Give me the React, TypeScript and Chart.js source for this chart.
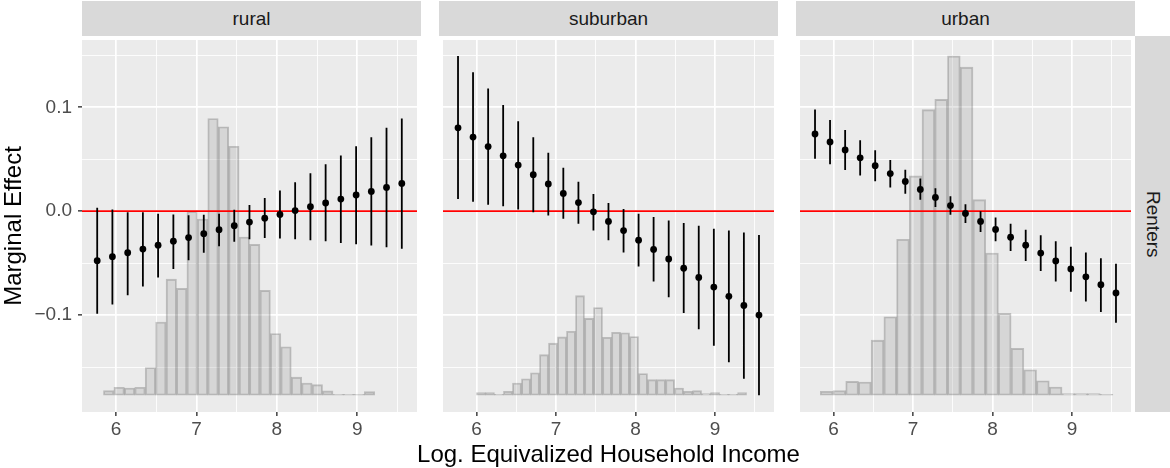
import React, { useEffect, useRef } from "react";
import { Chart, registerables } from "chart.js";

Chart.register(...registerables);

const FONT = '"Liberation Sans", Arial, Helvetica, sans-serif';

// ---- data ----
const facetNames = ["rural", "suburban", "urban"];
const rowName = "Renters";
const xTitle = "Log. Equivalized Household Income";
const yTitle = "Marginal Effect";

// evaluation grid of log income (shared by all panels)
const incomeGrid = [
  5.766, 5.955, 6.145, 6.334, 6.523, 6.713, 6.902, 7.091, 7.281, 7.47, 7.659,
  7.849, 8.038, 8.227, 8.417, 8.606, 8.795, 8.985, 9.174, 9.363, 9.553,
];

const ruralEst = [
  -0.0476, -0.0438, -0.04, -0.0365, -0.0327, -0.0289, -0.0254, -0.0216, -0.0178, -0.014, -0.0105,
  -0.0067, -0.0032, 0.0006, 0.0044, 0.0079, 0.0117, 0.0156, 0.019, 0.0229, 0.0267,
];
const ruralLow = [
  -0.0987, -0.0898, -0.081, -0.0724, -0.0638, -0.0556, -0.0473, -0.04, -0.0337, -0.0295, -0.027,
  -0.0257, -0.0263, -0.027, -0.0279, -0.0289, -0.0305, -0.0317, -0.033, -0.0346, -0.0362,
];
const ruralHigh = [
  0.0032, 0.0016, -0.001, -0.001, -0.0025, -0.0032, -0.0038, -0.0035, -0.0025, 0.0013, 0.006,
  0.0127, 0.02, 0.0279, 0.0365, 0.0451, 0.0537, 0.0625, 0.0711, 0.0803, 0.0892,
];

const suburbanEst = [
  0.0803, 0.0714, 0.0622, 0.0533, 0.0444, 0.0352, 0.0263, 0.0171, 0.0083, -0.0006, -0.0098,
  -0.0187, -0.0279, -0.0368, -0.046, -0.0549, -0.0638, -0.073, -0.0819, -0.0908, -0.1,
];
const suburbanLow = [
  0.0117, 0.0092, 0.0063, 0.0048, 0.0016, -0.001, -0.0041, -0.0073, -0.0121, -0.0187, -0.0279,
  -0.0397, -0.0533, -0.0676, -0.0829, -0.0981, -0.1137, -0.1295, -0.1454, -0.1613, -0.1771,
];
const suburbanHigh = [
  0.1495, 0.1337, 0.1181, 0.1022, 0.0867, 0.0711, 0.0562, 0.0419, 0.0283, 0.0165, 0.0079,
  0.0022, -0.0025, -0.0057, -0.0089, -0.0114, -0.014, -0.0168, -0.0187, -0.0206, -0.0229,
];

const urbanEst = [
  0.0743, 0.0667, 0.059, 0.0514, 0.0438, 0.0362, 0.0286, 0.021, 0.0133, 0.0054, -0.0022,
  -0.0098, -0.0175, -0.0251, -0.0327, -0.0403, -0.0479, -0.0556, -0.0632, -0.0708, -0.0787,
];
const urbanLow = [
  0.0505, 0.0451, 0.0397, 0.0343, 0.0289, 0.0229, 0.0168, 0.0111, 0.0041, -0.0035, -0.0114,
  -0.02, -0.0289, -0.0384, -0.0479, -0.0575, -0.0676, -0.0775, -0.087, -0.0971, -0.1073,
];
const urbanHigh = [
  0.0978, 0.0879, 0.0781, 0.0683, 0.0587, 0.0492, 0.04, 0.0314, 0.0222, 0.0143, 0.0067,
  0.0, -0.006, -0.0121, -0.0178, -0.0232, -0.029, -0.0343, -0.0397, -0.0454, -0.0505,
];

// income distribution (histogram bar tops, drawn in the plot's y units)
const histBase = -0.1772;
const ruralBinStart = 5.844;
const ruralBinWidth = 0.1297;
const ruralHist = [
  -0.1727, -0.1695, -0.1702, -0.1695, -0.1505, -0.1067, -0.0654, -0.0743, -0.0003, -0.0076, 0.0892,
  0.0813, 0.0625, -0.0248, -0.032, -0.0762, -0.1178, -0.1305, -0.1597, -0.1654, -0.167, -0.173,
  -0.1762, -0.1762, -0.1762, -0.1737,
];
const suburbanBinStart = 5.998;
const suburbanBinWidth = 0.1133;
const suburbanHist = [
  -0.1746, -0.1746, -0.1762, -0.1733, -0.1654, -0.1613, -0.1556, -0.1381, -0.127, -0.121, -0.1156,
  -0.0813, -0.1032, -0.0927, -0.1213, -0.1165, -0.1171, -0.1206, -0.1562, -0.1622, -0.1622, -0.1622,
  -0.1702, -0.1733, -0.1727, -0.1756, -0.1746, -0.1762, -0.1762, -0.1746,
];
const urbanBinStart = 5.832;
const urbanBinWidth = 0.1601;
const urbanHist = [
  -0.1733, -0.1727, -0.1638, -0.1644, -0.1241, -0.1016, -0.027, 0.034, 0.0978, 0.1076, 0.1495,
  0.1387, 0.0111, -0.0403, -0.0984, -0.1321, -0.1527, -0.1632, -0.1692, -0.1756, -0.1756, -0.1756,
  -0.1762,
];

// axis ranges and ticks
const xMin = 5.577;
const xMax = 9.742;
const yMin = -0.1933;
const yMax = 0.1648;
const xStep = 0.5;
const yStep = 0.05;
const refLineValue = 0;

const panels = [
  { est: ruralEst, low: ruralLow, high: ruralHigh, hist: ruralHist, binStart: ruralBinStart, binWidth: ruralBinWidth },
  { est: suburbanEst, low: suburbanLow, high: suburbanHigh, hist: suburbanHist, binStart: suburbanBinStart, binWidth: suburbanBinWidth },
  { est: urbanEst, low: urbanLow, high: urbanHigh, hist: urbanHist, binStart: urbanBinStart, binWidth: urbanBinWidth },
];

// ---- layout (page pixels) ----
const PANEL_TOP = 36;
const PANEL_H = 376;
const PANEL_W = 339;
const Y_AXIS_W = 82;
const PANEL_GAP = 18;
const X_AXIS_H = 56;

const isMultiple = (v: number, step: number) => {
  const r = v / step;
  return Math.abs(r - Math.round(r)) < 1e-6;
};

const panelBg = {
  id: "panelBg",
  beforeDraw(chart: any) {
    const { ctx, chartArea } = chart;
    if (!chartArea) return;
    ctx.save();
    ctx.fillStyle = "#EBEBEB";
    ctx.fillRect(chartArea.left, chartArea.top, chartArea.right - chartArea.left, chartArea.bottom - chartArea.top);
    ctx.restore();
  },
};

function buildConfig(p: any, showY: boolean): any {
  const points = incomeGrid.map((x, i) => ({ x, y: p.est[i] }));
  const ranges: any[] = [];
  incomeGrid.forEach((x, i) => {
    ranges.push({ x, y: p.low[i] }, { x, y: p.high[i] }, { x, y: null });
  });
  const bars = p.hist.map((top: number, i: number) => ({
    x: p.binStart + p.binWidth * (i + 0.5),
    y: [histBase, top],
  }));
  const refLine = [
    { x: xMin, y: refLineValue },
    { x: xMax, y: refLineValue },
  ];

  const majorX = (c: any) => c && c.tick && isMultiple(c.tick.value, 1);
  const majorY = (c: any) => c && c.tick && isMultiple(c.tick.value, 0.1);

  return {
    type: "bar",
    data: {
      datasets: [
        {
          type: "line",
          data: points,
          showLine: false,
          pointRadius: 3.4,
          pointBackgroundColor: "#000000",
          pointBorderWidth: 0,
          order: 0,
        },
        {
          type: "line",
          data: ranges,
          borderColor: "#000000",
          borderWidth: 1.8,
          pointRadius: 0,
          spanGaps: false,
          order: 1,
        },
        {
          type: "line",
          data: refLine,
          borderColor: "#FF0000",
          borderWidth: 1.7,
          pointRadius: 0,
          order: 2,
        },
        {
          type: "bar",
          data: bars,
          backgroundColor: "rgba(128,128,128,0.2)",
          borderColor: "rgba(80,80,80,0.3)",
          borderWidth: 1.2,
          borderSkipped: false,
          categoryPercentage: 1,
          barPercentage: 1,
          grouped: false,
          order: 3,
        },
      ],
    },
    options: {
      animation: false,
      responsive: false,
      maintainAspectRatio: false,
      devicePixelRatio: 1,
      events: [],
      layout: { padding: 0 },
      plugins: {
        legend: { display: false },
        tooltip: { enabled: false },
        title: { display: false },
      },
      scales: {
        x: {
          type: "linear",
          min: xMin,
          max: xMax,
          offset: false,
          border: { display: false },
          grid: {
            offset: false,
            color: "#FFFFFF",
            lineWidth: (c: any) => (majorX(c) ? 1.7 : 0.85),
            tickColor: (c: any) => (majorX(c) ? "#333333" : "rgba(0,0,0,0)"),
            tickLength: 4,
            tickWidth: 1.4,
          },
          ticks: {
            stepSize: xStep,
            includeBounds: false,
            autoSkip: false,
            maxRotation: 0,
            minRotation: 0,
            padding: 2,
            color: "#4D4D4D",
            font: { family: FONT, size: 19 },
            callback: (v: number) => (isMultiple(v, 1) ? String(Math.round(v)) : ""),
          },
          afterFit: (s: any) => {
            s.height = X_AXIS_H;
            s.paddingLeft = 0;
            s.paddingRight = 0;
          },
        },
        y: {
          type: "linear",
          min: yMin,
          max: yMax,
          border: { display: false },
          grid: {
            color: "#FFFFFF",
            lineWidth: (c: any) => (majorY(c) ? 1.7 : 0.85),
            tickColor: (c: any) => (majorY(c) ? "#333333" : "rgba(0,0,0,0)"),
            tickLength: 4,
            tickWidth: 1.4,
            drawTicks: showY,
          },
          ticks: {
            display: showY,
            stepSize: yStep,
            includeBounds: false,
            autoSkip: false,
            padding: 6,
            color: "#4D4D4D",
            font: { family: FONT, size: 19 },
            callback: (v: number) =>
              isMultiple(v, 0.1) ? (Math.abs(v) < 1e-9 ? "0.0" : v.toFixed(1).replace("-", "\u2212")) : "",
          },
          title: {
            display: showY,
            text: yTitle,
            color: "#000000",
            font: { family: FONT, size: 24 },
            padding: 0,
          },
          afterFit: (s: any) => {
            s.width = showY ? Y_AXIS_W : 0;
            s.paddingTop = 0;
            s.paddingBottom = 0;
          },
        },
      },
    },
    plugins: [panelBg],
  };
}

export default function App() {
  const r0 = useRef<HTMLCanvasElement>(null);
  const r1 = useRef<HTMLCanvasElement>(null);
  const r2 = useRef<HTMLCanvasElement>(null);

  useEffect(() => {
    const refs = [r0, r1, r2];
    const charts = refs.map((r, i) => new Chart(r.current as HTMLCanvasElement, buildConfig(panels[i], i === 0)));
    return () => charts.forEach((c) => c.destroy());
  }, []);

  const panelLeft = (i: number) => Y_AXIS_W + i * (PANEL_W + PANEL_GAP);
  const canvasH = PANEL_H + X_AXIS_H;

  return (
    <div
      style={{
        position: "absolute",
        left: 0,
        top: 0,
        width: 1170,
        height: 468,
        background: "#FFFFFF",
        overflow: "hidden",
        fontFamily: FONT,
      }}
    >
      {facetNames.map((name, i) => (
        <div
          key={name}
          style={{
            position: "absolute",
            left: panelLeft(i),
            top: 1,
            width: PANEL_W,
            height: PANEL_TOP - 1,
            background: "#D9D9D9",
            color: "#1A1A1A",
            fontSize: 19,
            display: "flex",
            alignItems: "center",
            justifyContent: "center",
          }}
        >
          {name}
        </div>
      ))}
      <div
        style={{
          position: "absolute",
          left: panelLeft(2) + PANEL_W,
          top: PANEL_TOP,
          width: 35,
          height: PANEL_H,
          background: "#D9D9D9",
          color: "#1A1A1A",
          fontSize: 19,
          display: "flex",
          alignItems: "center",
          justifyContent: "center",
          writingMode: "vertical-rl",
        }}
      >
        {rowName}
      </div>
      <canvas
        ref={r0}
        width={Y_AXIS_W + PANEL_W}
        height={canvasH}
        style={{ position: "absolute", left: 0, top: PANEL_TOP, width: Y_AXIS_W + PANEL_W, height: canvasH }}
      />
      <canvas
        ref={r1}
        width={PANEL_W}
        height={canvasH}
        style={{ position: "absolute", left: panelLeft(1), top: PANEL_TOP, width: PANEL_W, height: canvasH }}
      />
      <canvas
        ref={r2}
        width={PANEL_W}
        height={canvasH}
        style={{ position: "absolute", left: panelLeft(2), top: PANEL_TOP, width: PANEL_W, height: canvasH }}
      />
      <div
        style={{
          position: "absolute",
          left: Y_AXIS_W,
          width: panelLeft(2) + PANEL_W - Y_AXIS_W,
          top: 440,
          fontSize: 24,
          lineHeight: "28px",
          color: "#000000",
          textAlign: "center",
        }}
      >
        {xTitle}
      </div>
    </div>
  );
}
